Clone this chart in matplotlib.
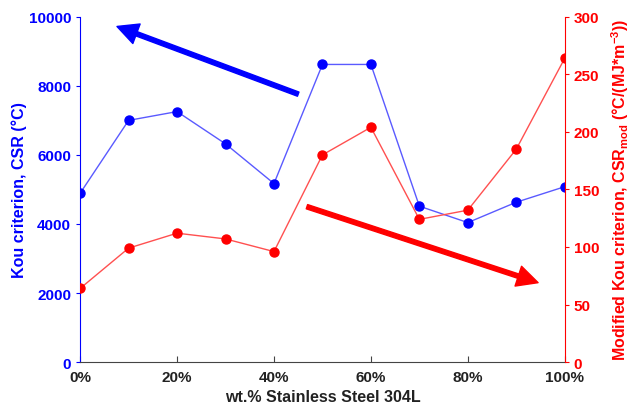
import matplotlib
matplotlib.use("Agg")
import matplotlib.pyplot as plt

plt.rcParams['font.family'] = ['Liberation Sans', 'DejaVu Sans']
plt.rcParams['font.weight'] = 'bold'
plt.rcParams['axes.labelweight'] = 'bold'
plt.rcParams['mathtext.default'] = 'regular'

wt = [0, 10, 20, 30, 40, 50, 60, 70, 80, 90, 100]
csr = [4890, 7000, 7255, 6320, 5170, 8620, 8620, 4515, 4040, 4630, 5080]
csr_mod = [64, 99, 112, 107, 96, 180, 204, 124, 132, 185, 264]
xticks = [0, 20, 40, 60, 80, 100]
xlabels = ['0%', '20%', '40%', '60%', '80%', '100%']

blue = '#0000ff'
red = '#ff0000'

fig = plt.figure(figsize=(6.31, 4.14), dpi=100)
ax = fig.add_axes([0.127, 0.123, 0.768, 0.834])
ax2 = ax.twinx()

ax.plot(wt, csr, color='#5a5aff', lw=1, marker='o', ms=6.5,
        mfc=blue, mec=blue)
ax2.plot(wt, csr_mod, color='#ff5050', lw=1, marker='o', ms=6.5,
         mfc=red, mec=red)

ax.set_xlim(0, 100)
ax.set_ylim(0, 10000)
ax2.set_ylim(0, 300)
ax.set_xticks(xticks)
ax.set_xticklabels(xlabels)
ax.set_yticks([0, 2000, 4000, 6000, 8000, 10000])
ax2.set_yticks([0, 50, 100, 150, 200, 250, 300])

for a in (ax, ax2):
    a.spines['top'].set_visible(False)
ax.spines['right'].set_visible(False)
ax.spines['left'].set_color(blue)
ax2.spines['left'].set_visible(False)
ax2.spines['right'].set_color(red)
ax2.spines['bottom'].set_visible(False)
ax.spines['bottom'].set_color('#444444')

ax.tick_params(axis='x', direction='in', length=4, colors='#444444',
               labelcolor='#222222', labelsize=11, pad=6)
ax.tick_params(axis='y', direction='out', length=3, colors=blue,
               labelsize=11)
ax2.tick_params(axis='y', direction='out', length=3, colors=red,
                labelsize=11)

ax.set_xlabel('wt.% Stainless Steel 304L', fontsize=11.5, color='#222222',
              labelpad=3)
ax.set_ylabel('Kou criterion, CSR (°C)', fontsize=11.5, color=blue,
              labelpad=1)
ax2.set_ylabel(r'Modified Kou criterion, CSR$_{mod}$ (°C/(MJ*m$^{-3}$))',
               fontsize=11.5, color=red, labelpad=7)

# trend arrows
ax.annotate('', xy=(7.6, 9720), xytext=(45, 7760),
            arrowprops=dict(width=3.2, headwidth=15, headlength=15,
                            color=blue, shrink=0))
ax2.annotate('', xy=(94.5, 69), xytext=(46.8, 135),
             arrowprops=dict(width=3.2, headwidth=15, headlength=15,
                             color=red, shrink=0))

fig.savefig('out.png', dpi=100)
